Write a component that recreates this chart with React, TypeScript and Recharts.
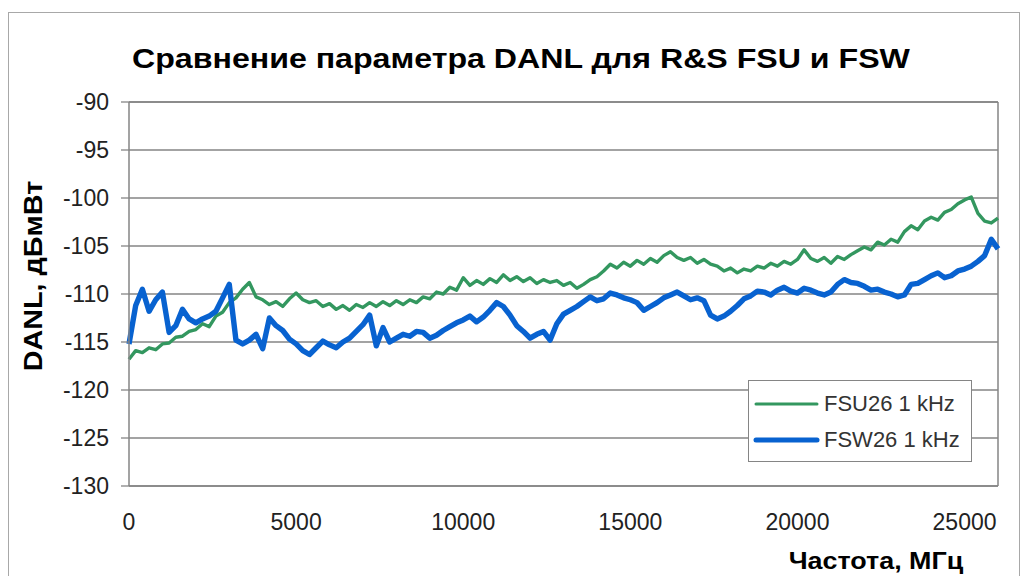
import React from "react"
import { LineChart, Line, XAxis, YAxis, CartesianGrid, Legend, ReferenceLine } from "recharts"

// frequency grid, MHz
const freqs = [
  0, 200, 400, 600, 800, 1000, 1200, 1400, 1600, 1800,
  2000, 2200, 2400, 2600, 2800, 3000, 3200, 3400, 3600, 3800,
  4000, 4200, 4400, 4600, 4800, 5000, 5200, 5400, 5600, 5800,
  6000, 6200, 6400, 6600, 6800, 7000, 7200, 7400, 7600, 7800,
  8000, 8200, 8400, 8600, 8800, 9000, 9200, 9400, 9600, 9800,
  10000, 10200, 10400, 10600, 10800, 11000, 11200, 11400, 11600, 11800,
  12000, 12200, 12400, 12600, 12800, 13000, 13200, 13400, 13600, 13800,
  14000, 14200, 14400, 14600, 14800, 15000, 15200, 15400, 15600, 15800,
  16000, 16200, 16400, 16600, 16800, 17000, 17200, 17400, 17600, 17800,
  18000, 18200, 18400, 18600, 18800, 19000, 19200, 19400, 19600, 19800,
  20000, 20200, 20400, 20600, 20800, 21000, 21200, 21400, 21600, 21800,
  22000, 22200, 22400, 22600, 22800, 23000, 23200, 23400, 23600, 23800,
  24000, 24200, 24400, 24600, 24800, 25000, 25200, 25400, 25600, 25800,
  26000,
]

// FSU26 1 kHz, dBm
const fsu = [
  -116.8, -115.9, -116.1, -115.6, -115.8, -115.2, -115.1, -114.5, -114.4, -113.9,
  -113.7, -113.1, -113.4, -112.3, -111.9, -110.9, -110.4, -109.5, -108.8, -110.3,
  -110.6, -111.1, -110.8, -111.3, -110.5, -109.9, -110.6, -110.9, -110.7, -111.3,
  -111.0, -111.6, -111.2, -111.7, -111.1, -111.4, -110.9, -111.3, -110.8, -111.2,
  -110.7, -111.1, -110.6, -110.9, -110.3, -110.5, -109.8, -110.0, -109.3, -109.6,
  -108.3, -109.1, -108.6, -109.0, -108.4, -108.8, -108.0, -108.6, -108.2, -108.7,
  -108.3, -108.9, -108.5, -108.8, -108.6, -109.1, -108.8, -109.4, -109.0, -108.5,
  -108.2, -107.6, -106.9, -107.3, -106.7, -107.1, -106.5, -106.9, -106.3, -106.7,
  -106.0, -105.6, -106.2, -106.5, -106.2, -106.8, -106.4, -106.9, -107.1, -107.6,
  -107.3, -107.8, -107.4, -107.6, -107.1, -107.3, -106.8, -107.1, -106.6, -106.9,
  -106.4, -105.4, -106.3, -106.6, -106.2, -106.8, -106.1, -106.4, -105.9, -105.5,
  -105.1, -105.4, -104.6, -104.9, -104.3, -104.6, -103.5, -102.9, -103.3, -102.4,
  -102.0, -102.3, -101.5, -101.2, -100.6, -100.2, -99.9, -101.6, -102.4, -102.6,
  -102.1,
]

// FSW26 1 kHz, dBm
const fsw = [
  -115.2, -111.2, -109.5, -111.8, -110.6, -109.8, -114.0, -113.3, -111.6, -112.6,
  -113.0, -112.6, -112.3, -111.8, -110.4, -109.0, -114.8, -115.2, -114.8, -114.2,
  -115.7, -112.5, -113.3, -113.8, -114.7, -115.2, -115.9, -116.3, -115.6, -114.9,
  -115.3, -115.6, -115.0, -114.6, -113.9, -113.2, -112.2, -115.4, -113.5, -115.0,
  -114.6, -114.2, -114.4, -113.9, -114.0, -114.6, -114.3, -113.8, -113.4, -113.0,
  -112.7, -112.3, -112.9, -112.4, -111.7, -110.9, -111.3, -112.2, -113.3, -113.9,
  -114.6, -114.2, -113.9, -114.8, -113.1, -112.1, -111.7, -111.3, -110.8, -110.3,
  -110.7, -110.5, -109.9, -110.1, -110.4, -110.6, -110.9, -111.7, -111.3, -110.9,
  -110.4, -110.1, -109.8, -110.2, -110.6, -110.4, -110.7, -112.2, -112.6, -112.3,
  -111.8, -111.2, -110.5, -110.2, -109.7, -109.8, -110.1, -109.6, -109.3, -109.7,
  -109.9, -109.4, -109.6, -109.9, -110.1, -109.8, -109.0, -108.5, -108.8, -108.9,
  -109.2, -109.6, -109.5, -109.8, -110.0, -110.3, -110.1, -109.0, -108.9, -108.5,
  -108.1, -107.8, -108.3, -108.1, -107.6, -107.4, -107.1, -106.6, -106.0, -104.3,
  -105.3,
]

const xTicks = [0, 5000, 10000, 15000, 20000, 25000]
const yTicks = [-130, -125, -120, -115, -110, -105, -100, -95, -90]
const seriesNames = ["FSU26 1 kHz", "FSW26 1 kHz"]

const GREEN = "#33975f"
const BLUE = "#0862d0"
const AXIS = "#858585"
const FONT = '"Liberation Sans", Arial, sans-serif'

const rows = freqs.map((f, i) => ({ f, fsu: fsu[i], fsw: fsw[i] }))

function LegendBox() {
  const items = [
    { name: seriesNames[0], color: GREEN, w: 3 },
    { name: seriesNames[1], color: BLUE, w: 5 },
  ]
  return (
    <div
      style={{
        width: 224,
        height: 82,
        boxSizing: "border-box",
        border: `1.5px solid ${AXIS}`,
        background: "#fff",
        paddingTop: 5,
      }}
    >
      {items.map((it) => (
        <div key={it.name} style={{ display: "flex", alignItems: "center", height: 36 }}>
          <svg width={75} height={10} style={{ flex: "none" }}>
            <line x1={7} x2={68} y1={5} y2={5} stroke={it.color} strokeWidth={it.w} strokeLinecap="round" />
          </svg>
          <span style={{ fontSize: 22, color: "#333", fontFamily: FONT, whiteSpace: "nowrap" }}>{it.name}</span>
        </div>
      ))}
    </div>
  )
}

export default function App() {
  return (
    <div
      style={{
        position: "absolute",
        left: 0,
        top: 0,
        width: 1026,
        height: 576,
        overflow: "hidden",
        background: "#fff",
        fontFamily: FONT,
      }}
    >
      <div
        style={{
          position: "absolute",
          left: 8,
          top: 12,
          width: 1010,
          height: 620,
          border: "1.5px solid #a8a8a8",
        }}
      />
      <div
        style={{
          position: "absolute",
          left: 8,
          top: 44,
          width: 1026,
          textAlign: "center",
          fontSize: 27,
          fontWeight: "bold",
          color: "#000",
          transform: "scaleX(1.19)",
        }}
      >
        Сравнение параметра DANL для R&S FSU и FSW
      </div>
      <div
        style={{
          position: "absolute",
          left: 33,
          top: 276,
          transform: "translate(-50%, -50%) rotate(-90deg) scaleX(1.15)",
          fontSize: 25,
          fontWeight: "bold",
          whiteSpace: "nowrap",
        }}
      >
        DANL, дБмВт
      </div>
      <div
        style={{
          position: "absolute",
          left: 876,
          top: 561,
          transform: "translate(-50%, -50%) scaleX(1.12)",
          fontSize: 24,
          fontWeight: "bold",
          whiteSpace: "nowrap",
        }}
      >
        Частота, МГц
      </div>
      <div style={{ position: "absolute", left: 0, top: 0 }}>
        <LineChart width={1026} height={576} data={rows} margin={{ top: 102, right: 28, bottom: 50, left: 69 }}>
          <CartesianGrid vertical={false} stroke={AXIS} strokeWidth={1.3} />
          <XAxis
            dataKey="f"
            type="number"
            domain={[0, 26000]}
            ticks={xTicks}
            interval={0}
            height={40}
            tickLine={false}
            tickSize={8}
            tickMargin={20}
            axisLine={{ stroke: AXIS, strokeWidth: 1.5 }}
            tick={{ fill: "#222", fontSize: 23, fontFamily: FONT }}
          />
          <XAxis
            xAxisId="top"
            orientation="top"
            dataKey="f"
            type="number"
            domain={[0, 26000]}
            ticks={xTicks}
            interval={0}
            height={20}
            mirror
            tick={false}
            tickSize={6}
            tickLine={{ stroke: AXIS, strokeWidth: 1.3 }}
            axisLine={{ stroke: AXIS, strokeWidth: 1.5 }}
          />
          <YAxis
            type="number"
            domain={[-130, -90]}
            ticks={yTicks}
            interval={0}
            width={60}
            tickSize={8}
            tickMargin={12}
            tickLine={{ stroke: AXIS, strokeWidth: 1.3 }}
            axisLine={{ stroke: AXIS, strokeWidth: 1.5 }}
            tick={{ fill: "#222", fontSize: 23, fontFamily: FONT }}
          />
          <ReferenceLine x={26000} stroke={AXIS} strokeWidth={1.5} />
          <Line
            dataKey="fsu"
            name={seriesNames[0]}
            type="linear"
            stroke={GREEN}
            strokeWidth={3.4}
            dot={false}
            strokeLinejoin="round"
            isAnimationActive={false}
          />
          <Line
            dataKey="fsw"
            name={seriesNames[1]}
            type="linear"
            stroke={BLUE}
            strokeWidth={5.4}
            dot={false}
            strokeLinejoin="round"
            isAnimationActive={false}
          />
          <Legend
            layout="horizontal"
            verticalAlign="middle"
            align="center"
            content={() => <LegendBox />}
            wrapperStyle={{ position: "absolute", left: 748, top: 380, width: 224, height: 82 }}
          />
        </LineChart>
      </div>
    </div>
  )
}
